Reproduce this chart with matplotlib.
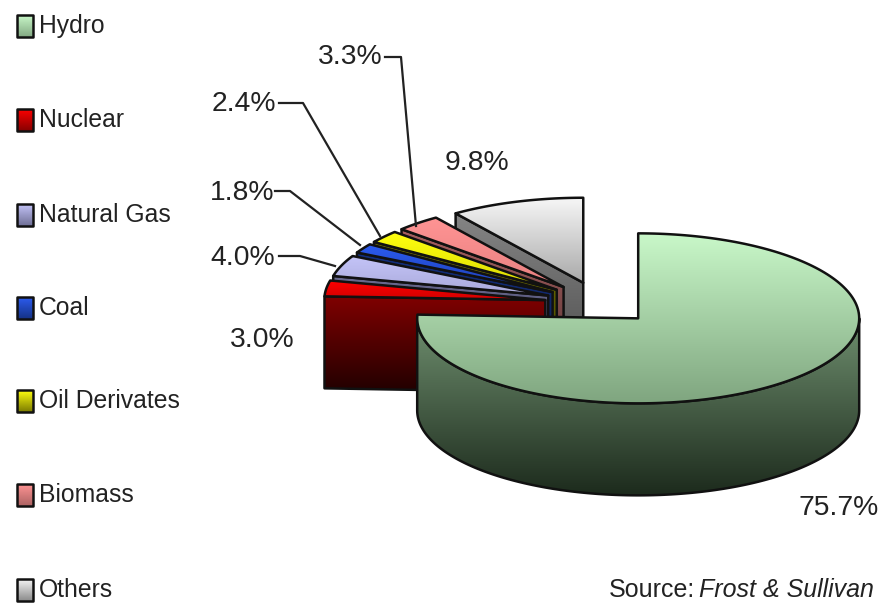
import matplotlib
matplotlib.use("Agg")
import matplotlib.pyplot as plt
from matplotlib.colors import LinearSegmentedColormap
from matplotlib.patches import Polygon
import numpy as np

categories = ["Hydro", "Nuclear", "Natural Gas", "Coal", "Oil Derivates", "Biomass", "Others"]
shares = [75.7, 3.0, 4.0, 1.8, 2.4, 3.3, 9.8]
pct_labels = ["75.7%", "3.0%", "4.0%", "1.8%", "2.4%", "3.3%", "9.8%"]

top_light = ["#c9f8c9", "#ff0000", "#c4c4f8", "#2c5cf0", "#ffff10", "#ff9494", "#f6f6f6"]
top_dark = ["#7fa57f", "#d00000", "#a8a8d8", "#1c3cb0", "#d8d800", "#e88080", "#a8a8a8"]
wall_light = ["#6f8f6f", "#800000", "#6a6a90", "#143080", "#757500", "#a86060", "#858585"]
wall_dark = ["#1c2a1c", "#200000", "#303048", "#0a1840", "#3a3a00", "#503030", "#4a4a4a"]

# pie geometry in pixels
CX, CY = 600, 303
RX, RY = 221, 85
DEPTH = 92
EXPLODE = 0.25

plt.rcParams["font.family"] = ["Liberation Sans", "DejaVu Sans"]

fig = plt.figure(figsize=(8.82, 6.04), dpi=100)
ax = fig.add_axes([0, 0, 1, 1])
ax.set_axis_off()

ax_z = [2]


def gradient_fill(points, c1, c2):
    points = np.array(points)
    cmap = LinearSegmentedColormap.from_list("g", [c1, c2])
    grad = np.linspace(0, 1, 256).reshape(-1, 1)
    x0, x1 = points[:, 0].min(), points[:, 0].max()
    y0, y1 = points[:, 1].min(), points[:, 1].max()
    im = ax.imshow(grad, cmap=cmap, extent=[x0, x1 + 1, y1 + 1, y0],
                   aspect="auto", zorder=ax_z[0], interpolation="bilinear")
    patch = Polygon(points, closed=True, fc="none", ec="#111111", lw=1.8,
                    joinstyle="round", zorder=ax_z[0] + 0.5)
    ax.add_patch(patch)
    im.set_clip_path(patch)
    ax_z[0] += 1


def ellipse_pts(cx, cy, a0, a1):
    t = np.radians(np.linspace(a0, a1, 200))
    return np.column_stack([cx + RX * np.cos(t), cy - RY * np.sin(t)])


def draw_slice(i, a_start, a_end):
    # a_start > a_end, going clockwise
    mid = np.radians((a_start + a_end) / 2)
    cx = CX + EXPLODE * RX * np.cos(mid)
    cy = CY - EXPLODE * RY * np.sin(mid)
    lo, hi = a_end, a_start

    # cut faces, hydro shows none of them
    if i != 0:
        for a, visible in ((hi, np.cos(np.radians(hi)) < -0.001),
                           (lo, np.cos(np.radians(lo)) > 0.001)):
            if not visible:
                continue
            p = ellipse_pts(cx, cy, a, a)[0]
            gradient_fill([(cx, cy), p, (p[0], p[1] + DEPTH), (cx, cy + DEPTH)],
                          wall_light[i], wall_dark[i])

    # outer rim, only the part facing the viewer
    r0, r1 = max(lo, -180), min(hi, 0)
    if r0 < r1:
        edge = ellipse_pts(cx, cy, r0, r1)
        low = edge + [0, DEPTH]
        gradient_fill(np.vstack([edge, low[::-1]]), wall_light[i], wall_dark[i])

    arc = ellipse_pts(cx, cy, lo, hi)
    gradient_fill(np.vstack([[(cx, cy)], arc]), top_light[i], top_dark[i])


angles = 90 - np.cumsum([0] + shares) * 3.6
slices = [(i, angles[i], angles[i + 1]) for i in range(len(shares))]
# back slices first, hydro goes on top
for i, a_start, a_end in slices[::-1]:
    draw_slice(i, a_start, a_end)

# legend
legend_y = [26, 120, 215, 308, 401, 495, 590]
for i, name in enumerate(categories):
    y = legend_y[i]
    gradient_fill([(17, y - 11), (33, y - 11), (33, y + 11), (17, y + 11)],
                  top_light[i], wall_light[i] if i else top_dark[i])
    ax.text(39, y, name, fontsize=17.8, va="center", ha="left", color="#222222", zorder=2000)

# percentage labels
label_xy = [(839, 508), (262, 340), (243, 258), (242, 193), (244, 104), (350, 57), (477, 163)]
for txt, (x, y) in zip(pct_labels, label_xy):
    ax.text(x, y, txt, fontsize=20.3, ha="center", va="center", color="#222222", zorder=2000)

# leader lines
leaders = [
    ([279, 300, 335], [256, 256, 266]),
    ([275, 290, 360], [191, 191, 245]),
    ([279, 303, 380], [103, 103, 236]),
    ([385, 401, 416], [57, 57, 226]),
]
for xs, ys in leaders:
    ax.plot(xs, ys, color="#222222", lw=1.6, zorder=1500)

ax.text(609, 590, "Source:", fontsize=18, ha="left", va="center", color="#222222", zorder=2000)
ax.text(699, 590, "Frost & Sullivan", fontsize=18, style="italic", ha="left", va="center",
        color="#222222", zorder=2000)

ax.set_xlim(0, 882)
ax.set_ylim(604, 0)
fig.savefig("out.png", dpi=100)
